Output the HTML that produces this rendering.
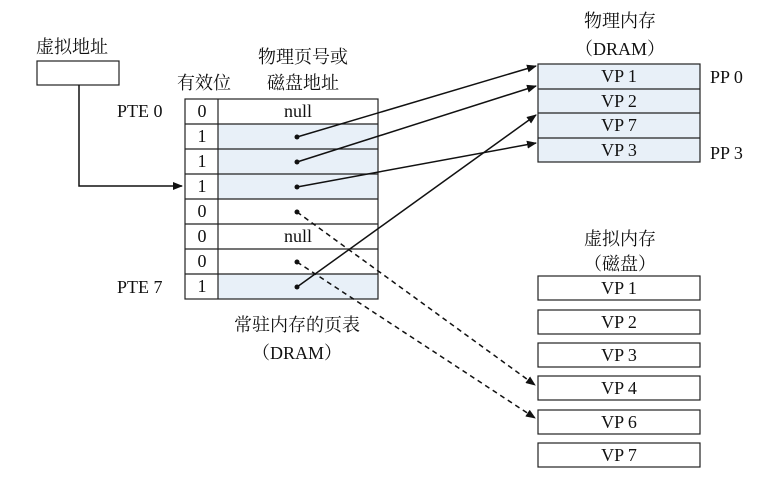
<!DOCTYPE html>
<html><head><meta charset="utf-8"><style>
body{margin:0;background:#fff;}
svg text{font-family:"Liberation Serif","Noto Serif CJK SC",serif;font-size:18px;fill:#111;}
</style></head><body>
<svg width="762" height="484" viewBox="0 0 762 484" xmlns="http://www.w3.org/2000/svg">
<defs>
<marker id="a" markerWidth="10" markerHeight="8" refX="9" refY="4" orient="auto" markerUnits="userSpaceOnUse">
<path d="M0,0 L10,4 L0,8 z" fill="#111"/></marker>
</defs>
<g stroke="#222" stroke-width="1.2">
<rect x="37" y="61" width="82" height="24" fill="#fff"/>
<rect x="218" y="124" width="160" height="75" fill="#e8f0f8" stroke="none"/>
<rect x="218" y="274" width="160" height="25" fill="#e8f0f8" stroke="none"/>
<rect x="185" y="99" width="193" height="200" fill="none"/>
<line x1="218" y1="99" x2="218" y2="299"/>
<line x1="185" y1="124" x2="378" y2="124"/><line x1="185" y1="149" x2="378" y2="149"/>
<line x1="185" y1="174" x2="378" y2="174"/><line x1="185" y1="199" x2="378" y2="199"/>
<line x1="185" y1="224" x2="378" y2="224"/><line x1="185" y1="249" x2="378" y2="249"/>
<line x1="185" y1="274" x2="378" y2="274"/>
<rect x="538" y="64" width="162" height="98" fill="#e8f0f8"/>
<line x1="538" y1="89" x2="700" y2="89"/><line x1="538" y1="113" x2="700" y2="113"/><line x1="538" y1="138" x2="700" y2="138"/>
<rect x="538" y="276" width="162" height="24" fill="#fff"/>
<rect x="538" y="310" width="162" height="24" fill="#fff"/>
<rect x="538" y="343" width="162" height="24" fill="#fff"/>
<rect x="538" y="376" width="162" height="24" fill="#fff"/>
<rect x="538" y="410" width="162" height="24" fill="#fff"/>
<rect x="538" y="443" width="162" height="24" fill="#fff"/>
</g>
<g stroke="#111" stroke-width="1.5" fill="none">
<polyline points="79,85 79,186 182,186" marker-end="url(#a)"/>
<line x1="297" y1="137" x2="536" y2="66" marker-end="url(#a)"/>
<line x1="297" y1="162" x2="536" y2="86" marker-end="url(#a)"/>
<line x1="297" y1="187" x2="536" y2="143" marker-end="url(#a)"/>
<line x1="297" y1="287" x2="536" y2="115" marker-end="url(#a)"/>
<line x1="297" y1="212" x2="535" y2="385" stroke-dasharray="5,4" marker-end="url(#a)"/>
<line x1="297" y1="262" x2="535" y2="418" stroke-dasharray="5,4" marker-end="url(#a)"/>
</g>
<g fill="#111"><circle cx="297" cy="137" r="2.5"/><circle cx="297" cy="162" r="2.5"/><circle cx="297" cy="187" r="2.5"/>
<circle cx="297" cy="212" r="2.5"/><circle cx="297" cy="262" r="2.5"/><circle cx="297" cy="287" r="2.5"/></g>
<text x="36" y="53">虚拟地址</text>
<text x="303" y="63" text-anchor="middle">物理页号或</text>
<text x="303" y="89" text-anchor="middle">磁盘地址</text>
<text x="204" y="89" text-anchor="middle">有效位</text>
<text x="117" y="117">PTE 0</text>
<text x="117" y="293">PTE 7</text>
<g text-anchor="middle">
<text x="202" y="117">0</text><text x="202" y="142">1</text><text x="202" y="167">1</text><text x="202" y="192">1</text>
<text x="202" y="217">0</text><text x="202" y="242">0</text><text x="202" y="267">0</text><text x="202" y="292">1</text>
<text x="298" y="117">null</text><text x="298" y="242">null</text>
<text x="297" y="331">常驻内存的页表</text>
<text x="297" y="359">（DRAM）</text>
<text x="620" y="27">物理内存</text>
<text x="620" y="55">（DRAM）</text>
<text x="619" y="82">VP 1</text><text x="619" y="107">VP 2</text><text x="619" y="131">VP 7</text><text x="619" y="156">VP 3</text>
<text x="620" y="245">虚拟内存</text>
<text x="620" y="270">（磁盘）</text>
<text x="619" y="294">VP 1</text><text x="619" y="328">VP 2</text><text x="619" y="361">VP 3</text>
<text x="619" y="394">VP 4</text><text x="619" y="428">VP 6</text><text x="619" y="461">VP 7</text>
</g>
<text x="710" y="83">PP 0</text>
<text x="710" y="159">PP 3</text>
</svg>
</body></html>
